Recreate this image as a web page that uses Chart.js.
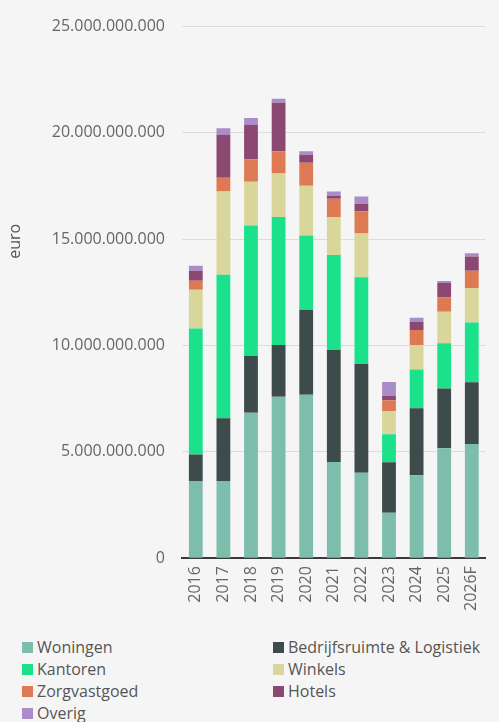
<!DOCTYPE html>
<html>
<head>
<meta charset="utf-8">
<script src="https://cdn.jsdelivr.net/npm/chart.js@4.4.1/dist/chart.umd.min.js"></script>
<style>
  html, body { margin: 0; padding: 0; background: #f5f5f5; }
  body { width: 499px; height: 722px; position: relative; overflow: hidden; font-family: "Open Sans", sans-serif; }
  #wrap { position: absolute; left: 0; top: 0; width: 499px; height: 619px; }
  #legend { position: absolute; left: 22px; top: 636px; width: 477px; display: grid; grid-template-columns: 251px 226px; row-gap: 0; }
  .item { display: flex; align-items: center; height: 22px; font-size: 16px; color: #555; white-space: nowrap; }
  .box { width: 11px; height: 11px; margin-right: 4px; flex: none; }
</style>
</head>
<body>
<div id="wrap"><canvas id="c"></canvas></div>
<div id="legend"></div>
<script>
const categories = ["2016", "2017", "2018", "2019", "2020", "2021", "2022", "2023", "2024", "2025", "2026F"];
const seriesNames = ["Woningen", "Bedrijfsruimte & Logistiek", "Kantoren", "Winkels", "Zorgvastgoed", "Hotels", "Overig"];
const woningen   = [3.63e9, 3.63e9, 6.84e9, 7.59e9, 7.69e9, 4.52e9, 4.02e9, 2.14e9, 3.90e9, 5.17e9, 5.37e9];
const bedrijfs   = [1.24e9, 2.95e9, 2.67e9, 2.43e9, 3.99e9, 5.27e9, 5.11e9, 2.37e9, 3.15e9, 2.81e9, 2.90e9];
const kantoren   = [5.93e9, 6.75e9, 6.14e9, 6.02e9, 3.49e9, 4.47e9, 4.08e9, 1.32e9, 1.82e9, 2.13e9, 2.81e9];
const winkels    = [1.82e9, 3.91e9, 2.05e9, 2.05e9, 2.34e9, 1.79e9, 2.06e9, 1.09e9, 1.16e9, 1.48e9, 1.62e9];
const zorg       = [0.43e9, 0.65e9, 1.06e9, 1.05e9, 1.09e9, 0.85e9, 1.04e9, 0.51e9, 0.70e9, 0.67e9, 0.82e9];
const hotels     = [0.47e9, 2.02e9, 1.61e9, 2.28e9, 0.37e9, 0.15e9, 0.36e9, 0.21e9, 0.39e9, 0.68e9, 0.67e9];
const overig     = [0.23e9, 0.31e9, 0.33e9, 0.19e9, 0.17e9, 0.19e9, 0.34e9, 0.64e9, 0.19e9, 0.09e9, 0.15e9];
const yTicks     = [0, 5e9, 10e9, 15e9, 20e9, 25e9];
const colors = ["#7dbdab", "#3e4b4b", "#1be28a", "#d9d69b", "#de7a53", "#8b4871", "#a98cc8"];
const seriesValues = [woningen, bedrijfs, kantoren, winkels, zorg, hotels, overig];

function fmt(v) {
  return String(Math.round(v)).replace(/\B(?=(\d{3})+(?!\d))/g, ".");
}

const yTitle = {
  id: 'yTitle',
  afterDraw(chart) {
    const ctx = chart.ctx, a = chart.chartArea;
    ctx.save();
    ctx.translate(15, a.top + (a.bottom - a.top) * 0.404);
    ctx.rotate(-Math.PI / 2);
    ctx.font = '16px "Open Sans"';
    ctx.fillStyle = '#555';
    ctx.textAlign = 'center';
    ctx.textBaseline = 'middle';
    ctx.fillText('euro', 0, 0);
    ctx.restore();
  }
};

const chart = new Chart(document.getElementById('c'), {
  type: 'bar',
  data: {
    labels: categories,
    datasets: seriesNames.map((n, i) => ({
      label: n,
      data: seriesValues[i],
      backgroundColor: colors[i],
      borderWidth: 0,
      barPercentage: 0.5,
      categoryPercentage: 1.0
    }))
  },
  options: {
    responsive: true,
    maintainAspectRatio: false,
    animation: false,
    layout: { padding: { top: 8, right: 0, left: 0, bottom: 0 } },
    plugins: { legend: { display: false }, tooltip: { enabled: false } },
    scales: {
      x: {
        stacked: true,
        grid: { display: false, drawTicks: false },
        border: { display: true, color: '#3b3b3b', width: 2 },
        ticks: { minRotation: 90, maxRotation: 90, padding: 8, color: '#666', font: { family: 'Open Sans', size: 16 } }
      },
      y: {
        stacked: true,
        min: 0, max: 25e9,
        afterBuildTicks(scale) { scale.ticks = yTicks.map(v => ({ value: v })); },
        afterFit(scale) { scale.width = 182; },
        grid: { color: '#dcdcdc', lineWidth: 1, drawTicks: false },
        border: { display: false },
        ticks: { padding: 17, color: '#666', font: { family: 'Open Sans', size: 16 }, callback: v => fmt(v) }
      }
    }
  },
  plugins: [yTitle]
});

const leg = document.getElementById('legend');
chart.data.datasets.forEach(ds => {
  const d = document.createElement('div');
  d.className = 'item';
  const b = document.createElement('span');
  b.className = 'box';
  b.style.background = ds.backgroundColor;
  const t = document.createElement('span');
  t.textContent = ds.label;
  d.appendChild(b); d.appendChild(t);
  leg.appendChild(d);
});
</script>
</body>
</html>
